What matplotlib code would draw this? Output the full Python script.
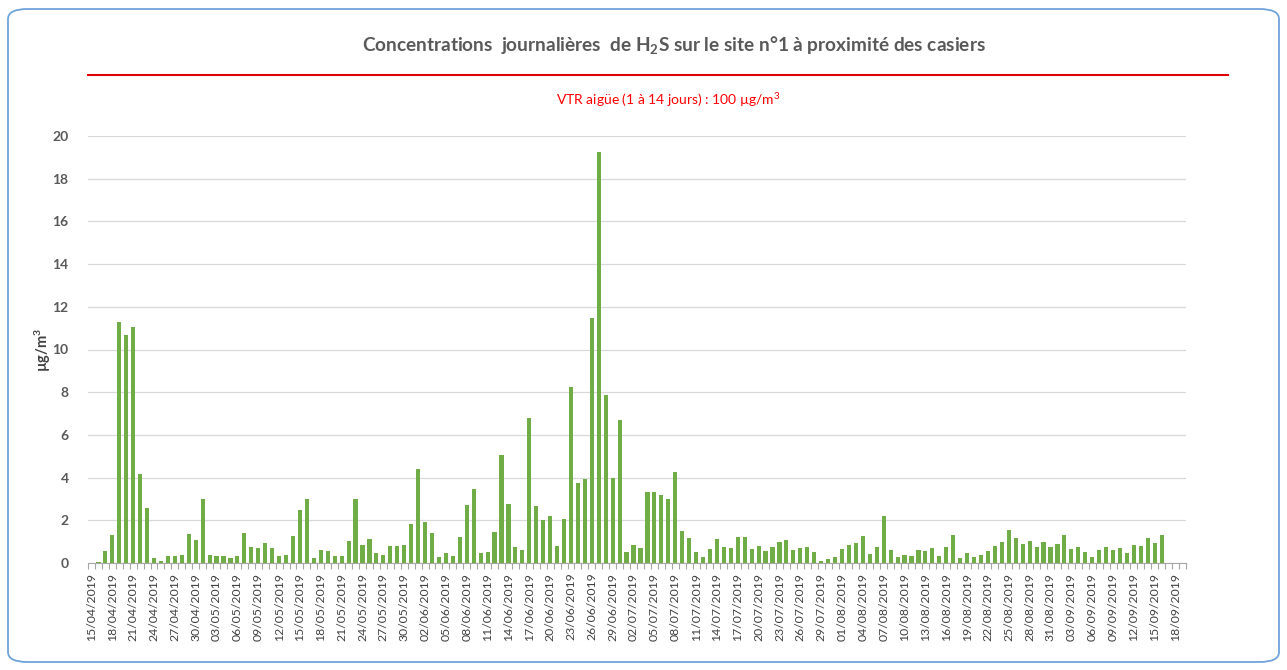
import numpy as np
import pandas as pd
import matplotlib
matplotlib.use("Agg")
import matplotlib.pyplot as plt
from matplotlib.patches import FancyBboxPatch
from matplotlib.lines import Line2D

plt.rcParams['font.family'] = ['Lato', 'DejaVu Sans']
plt.rcParams['mathtext.default'] = 'regular'

# daily H2S concentrations, 15/04/2019 -> 19/09/2019 (µg/m3)
dates = pd.date_range("2019-04-15", "2019-09-19", freq="D")
values = [
    0.0, 0.05, 0.58, 1.31, 11.3, 10.7, 11.07, 4.17, 2.56, 0.25,
    0.11, 0.31, 0.31, 0.39, 1.36, 1.08, 3.02, 0.39, 0.34, 0.31,
    0.25, 0.31, 1.41, 0.77, 0.72, 0.95, 0.72, 0.31, 0.39, 1.27,
    2.47, 3.02, 0.25, 0.63, 0.58, 0.34, 0.31, 1.03, 3.02, 0.84,
    1.13, 0.48, 0.39, 0.80, 0.80, 0.84, 1.81, 4.39, 1.94, 1.41,
    0.30, 0.48, 0.34, 1.22, 2.73, 3.47, 0.48, 0.53, 1.44, 5.08,
    2.78, 0.77, 0.63, 6.79, 2.69, 2.00, 2.22, 0.80, 2.05, 8.26,
    3.75, 3.92, 11.49, 19.23, 7.85, 3.97, 6.69, 0.53, 0.84, 0.72,
    3.34, 3.34, 3.20, 3.02, 4.25, 1.48, 1.17, 0.53, 0.30, 0.67,
    1.13, 0.77, 0.72, 1.22, 1.22, 0.67, 0.80, 0.58, 0.77, 0.98,
    1.08, 0.63, 0.72, 0.77, 0.53, 0.11, 0.20, 0.30, 0.67, 0.84,
    0.94, 1.27, 0.44, 0.77, 2.19, 0.63, 0.30, 0.39, 0.34, 0.63,
    0.58, 0.72, 0.34, 0.77, 1.31, 0.25, 0.48, 0.30, 0.39, 0.58,
    0.80, 0.98, 1.55, 1.17, 0.89, 1.03, 0.77, 0.98, 0.77, 0.89,
    1.31, 0.67, 0.77, 0.53, 0.30, 0.63, 0.77, 0.63, 0.72, 0.48,
    0.84, 0.80, 1.17, 0.94, 1.31, np.nan, np.nan, np.nan,
]
labels = [d.strftime("%d/%m/%Y") for d in dates]

grey = "#595959"
fig = plt.figure(figsize=(12.87, 6.70), dpi=100)

# rounded frame around the whole chart
frame = FancyBboxPatch((8 / 1287, 8 / 670), 1271 / 1287, 653 / 670,
                       boxstyle="round,pad=0,rounding_size=0.015",
                       transform=fig.transFigure, fill=False,
                       edgecolor="#6FA3DA", linewidth=1.3)
fig.patches.append(frame)

ax = fig.add_axes([88 / 1287, (670 - 563) / 670, 1098 / 1287, 427 / 670])
x = np.arange(len(dates))
ax.bar(x, values, width=0.6, color="#70AD47", zorder=3)

ax.set_xlim(-0.5, len(dates) - 0.5)
ax.set_ylim(0, 20)
ax.set_yticks(np.arange(0, 21, 2))
ax.tick_params(axis="y", length=0, labelsize=10, labelcolor=grey, pad=14)
for t in ax.get_yticklabels():
    t.set_fontweight("bold")
ax.grid(axis="y", color="#D9D9D9", linewidth=0.9, zorder=0)

ax.set_xticks(x[::3])
ax.set_xticklabels(labels[::3], rotation=90, fontsize=8.8, color="#404040")
ax.set_xticks(np.arange(-0.5, len(dates)), minor=True)
ax.tick_params(axis="x", which="major", length=0, pad=7)
ax.tick_params(axis="x", which="minor", length=4, color="#A6A6A6", width=0.8)

for s in ["top", "right", "left"]:
    ax.spines[s].set_visible(False)
ax.spines["bottom"].set_color("#A6A6A6")

fig.text(43 / 1287, (670 - 350) / 670, "µg/m$^3$", rotation=90, ha="center", va="center",
         fontsize=10.5, fontweight="bold", color="#404040")

fig.text(674 / 1287, (670 - 45) / 670,
         "Concentrations  journalières  de H$_2$S sur le site n°1 à proximité des casiers",
         ha="center", va="center", fontsize=13.7, fontweight="bold", color=grey)

fig.lines.append(Line2D([88 / 1287, 1228 / 1287], [(670 - 75) / 670] * 2,
                        transform=fig.transFigure, color="#E00000", linewidth=1.5))
fig.text(668 / 1287, (670 - 100) / 670, "VTR aigüe (1 à 14 jours) : 100 µg/m$^3$",
         ha="center", va="center", fontsize=10, color="#FF0000")

fig.savefig("out.png", dpi=100)
